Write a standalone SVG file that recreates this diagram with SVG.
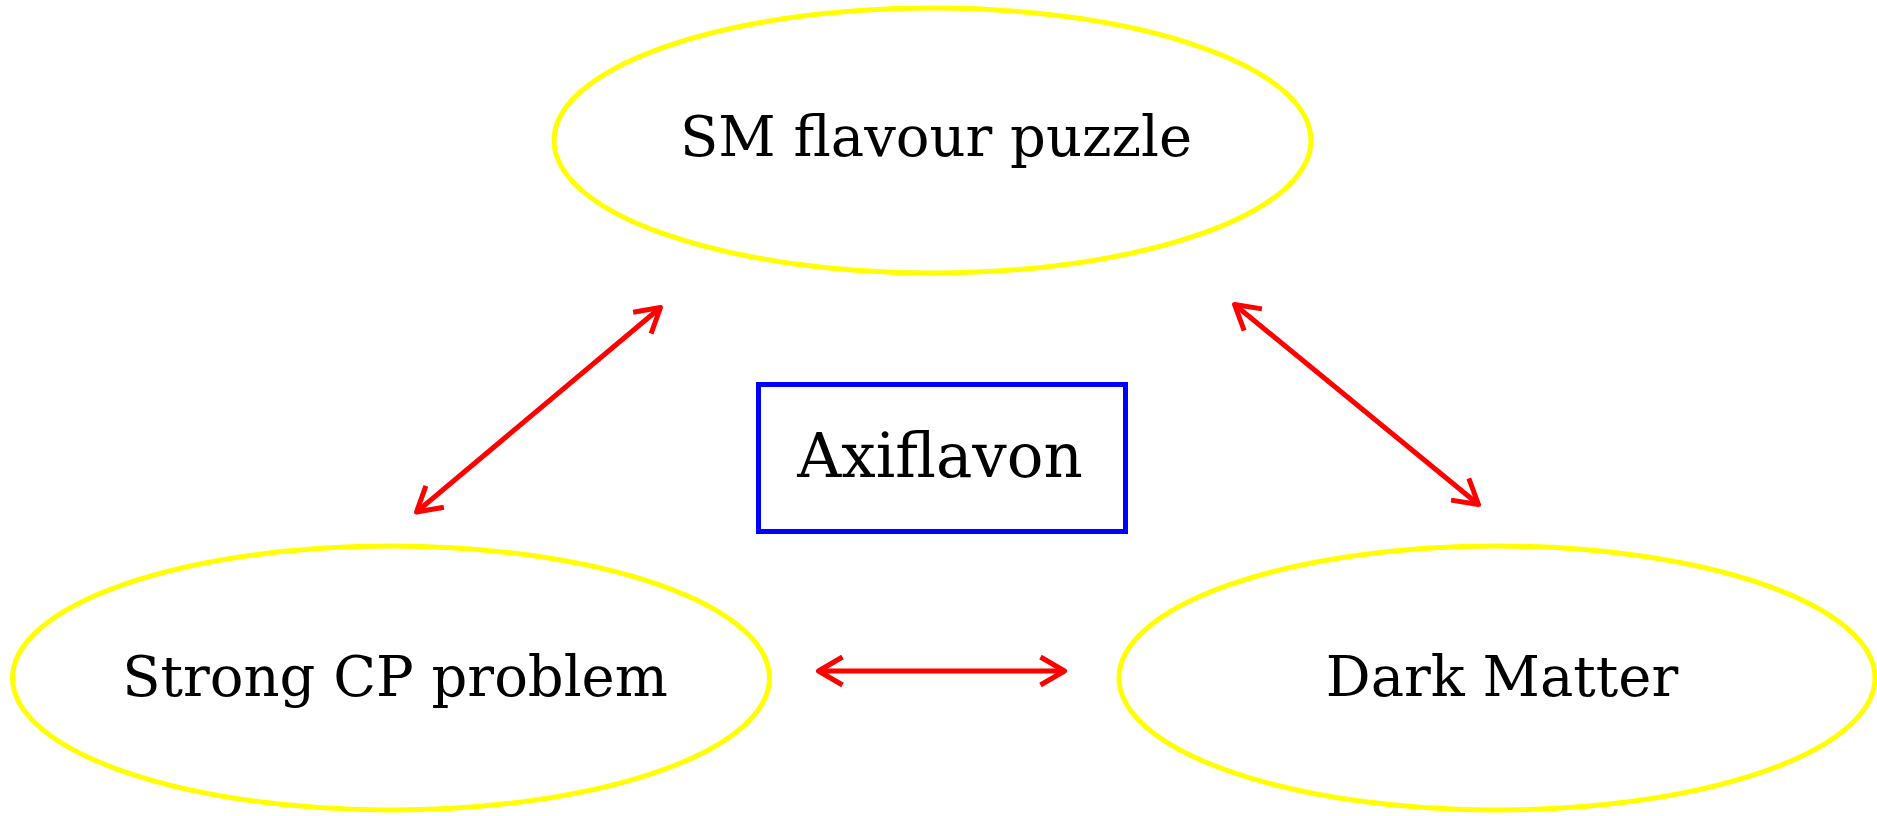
<svg xmlns="http://www.w3.org/2000/svg" width="1877" height="816" viewBox="0 0 1877 816">
  <style>
    .node ellipse { fill: none; stroke: #ffff00; stroke-width: 5; }
    .box rect { fill: none; stroke: #0000ff; stroke-width: 5; }
    .label { font-family: "DejaVu Serif", "Liberation Serif", serif; font-size: 56px; fill: #000; text-anchor: middle; }
    .big { font-size: 61px; }
    .edge { stroke: #ff0000; stroke-width: 5; fill: none; marker-start: url(#arr); marker-end: url(#arr); }
  </style>
  <defs>
    <marker id="arr" markerUnits="userSpaceOnUse" viewBox="-30 -20 40 40" markerWidth="40" markerHeight="40" refX="0" refY="0" orient="auto-start-reverse" overflow="visible">
      <path d="M -24 -14 L 0 0 L -24 14" fill="none" stroke="#ff0000" stroke-width="5" stroke-linejoin="round" stroke-linecap="butt"/>
    </marker>
  </defs>
  <rect width="1877" height="816" fill="#ffffff"/>
  <g id="sm">
    <g class="node"><ellipse cx="932.5" cy="140.5" rx="378.5" ry="132.5"/></g>
    <text class="label" x="936" y="156">SM flavour puzzle</text>
  </g>
  <g id="strongcp">
    <g class="node"><ellipse cx="391" cy="678" rx="378.5" ry="132"/></g>
    <text class="label" x="395" y="696">Strong CP problem</text>
  </g>
  <g id="darkmatter">
    <g class="node"><ellipse cx="1497" cy="678" rx="378" ry="132"/></g>
    <text class="label" x="1502" y="696">Dark Matter</text>
  </g>
  <g id="axiflavon">
    <g class="box"><rect x="758.5" y="384.5" width="367" height="147"/></g>
    <text class="label big" x="940" y="477">Axiflavon</text>
  </g>
  <g id="connectors">
    <line class="edge" x1="416.5" y1="512" x2="660.5" y2="307.5"/>
    <line class="edge" x1="1234.5" y1="304.5" x2="1478.5" y2="504.5"/>
    <line class="edge" x1="818.5" y1="671" x2="1064.5" y2="671"/>
  </g>
</svg>
